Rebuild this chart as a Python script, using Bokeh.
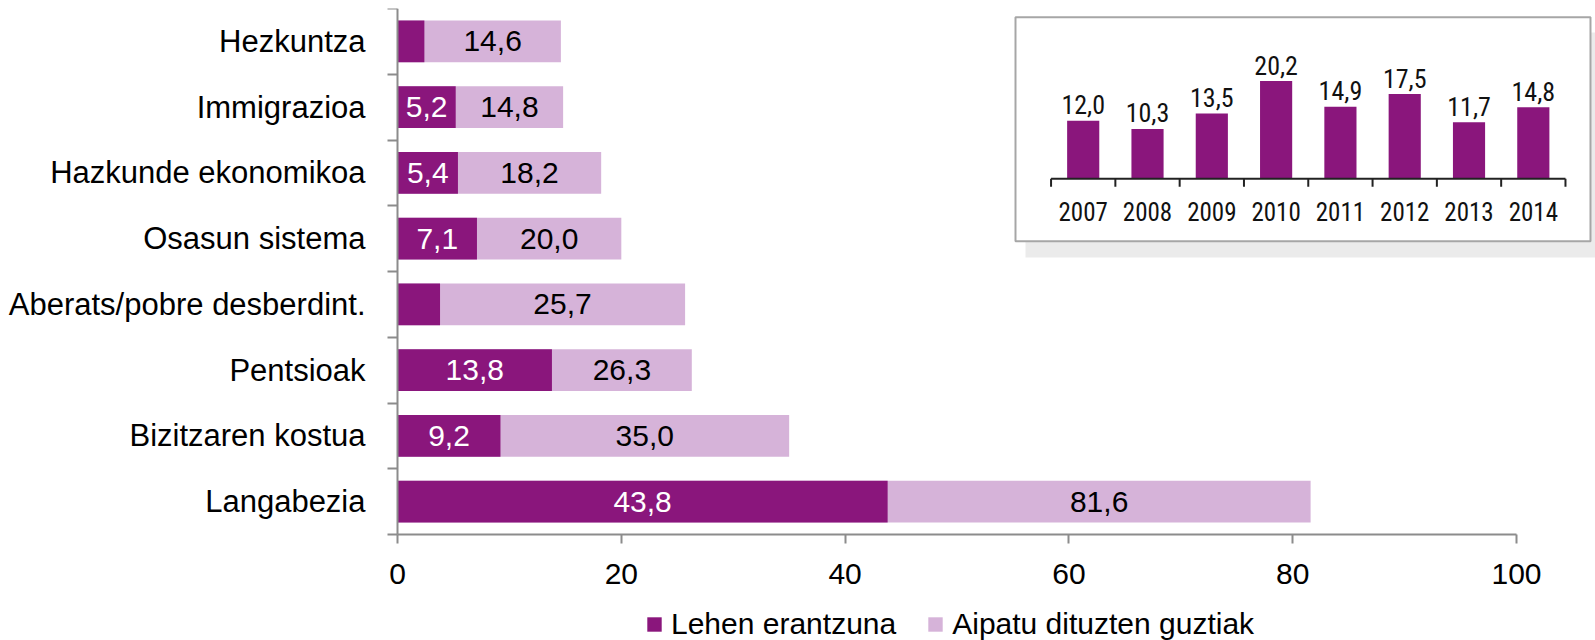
from bokeh.plotting import figure
from bokeh.models import Range1d, FixedTicker, ColumnDataSource, Legend, LegendItem
from bokeh.core.properties import value
from bokeh.embed import file_html
from bokeh.resources import INLINE

# ---- data ----
categories = ["Hezkuntza", "Immigrazioa", "Hazkunde ekonomikoa", "Osasun sistema",
              "Aberats/pobre desberdint.", "Pentsioak", "Bizitzaren kostua", "Langabezia"]
first_answer = [2.4, 5.2, 5.4, 7.1, 3.8, 13.8, 9.2, 43.8]
all_mentions = [14.6, 14.8, 18.2, 20.0, 25.7, 26.3, 35.0, 81.6]
series_names = ["Lehen erantzuna", "Aipatu dituzten guztiak"]
x_ticks = [0, 20, 40, 60, 80, 100]

years = ["2007", "2008", "2009", "2010", "2011", "2012", "2013", "2014"]
year_values = [12.0, 10.3, 13.5, 20.2, 14.9, 17.5, 11.7, 14.8]

DARK = "#8a167c"
LIGHT = "#d6b3d9"
AXIS_GRAY = "#8c8c8c"
FONT = value("Liberation Sans")
NARROW = value("Roboto Condensed")


def fmt(v):
    return f"{v:.1f}".replace(".", ",")


n = len(categories)
idx = list(range(n))
src = ColumnDataSource(dict(
    y=idx,
    first=first_answer,
    total=all_mentions,
    first_mid=[f / 2 for f in first_answer],
    total_mid=[(f + t) / 2 for f, t in zip(first_answer, all_mentions)],
    first_lbl=[fmt(f) if f >= 5 else "" for f in first_answer],
    total_lbl=[fmt(t) for t in all_mentions],
))

# frame covers the whole canvas; axes are placed at fixed data locations
p = figure(width=1595, height=640, output_backend="svg", toolbar_location=None,
           x_range=Range1d(-35.48, 107.06), y_range=Range1d(9.112, -0.5),
           min_border_left=0, min_border_right=0, min_border_top=8, min_border_bottom=0)
p.outline_line_color = None
p.grid.visible = False

# inset ranges (mapped onto the same frame)
ny = len(years)
p.extra_x_ranges = {"ix": Range1d(-16.838, 7.967)}
p.extra_y_ranges = {"iy": Range1d(-95.39, 35.19)}

# inset shadow and box
p.quad(left=[-0.897], right=[8.04], top=[30.23], bottom=[-16.26],
       x_range_name="ix", y_range_name="iy", fill_color="#ebebeb", line_color=None)
p.quad(left=[-1.053], right=[7.889], top=[33.39], bottom=[-12.89],
       x_range_name="ix", y_range_name="iy", fill_color="white", line_color="#a6a6a6", line_width=2)

# main bars
light_r = p.hbar(y="y", left=0, right="total", height=0.633, source=src,
                 fill_color=LIGHT, line_color=None)
dark_r = p.hbar(y="y", left=0, right="first", height=0.633, source=src,
                fill_color=DARK, line_color=None)
p.text(x="first_mid", y="y", text="first_lbl", source=src, text_color="white",
       text_align="center", text_baseline="middle", text_font=FONT, text_font_size="30px")
p.text(x="total_mid", y="y", text="total_lbl", source=src, text_color="black",
       text_align="center", text_baseline="middle", text_font=FONT, text_font_size="30px")

# inset bars
yidx = list(range(ny))
isrc = ColumnDataSource(dict(x=yidx, v=year_values, lbl=[fmt(v) for v in year_values],
                             year=years, zero=[0] * ny))
p.vbar(x="x", top="v", bottom=0, width=0.5, source=isrc, x_range_name="ix", y_range_name="iy",
       fill_color=DARK, line_color=None)
p.text(x="x", y="v", text="lbl", source=isrc, x_range_name="ix", y_range_name="iy",
       text_align="center", text_baseline="alphabetic", y_offset=-16,
       text_font=NARROW, text_font_size="26px", text_color="#111111")
p.text(x="x", y="zero", text="year", source=isrc, x_range_name="ix", y_range_name="iy",
       text_align="center", text_baseline="middle", y_offset=33,
       text_font=NARROW, text_font_size="25px", text_color="#111111")
edges = [i - 0.5 for i in range(ny + 1)]
p.segment(x0=[edges[0]], x1=[edges[-1]], y0=[0], y1=[0], x_range_name="ix", y_range_name="iy",
          line_color="#222222", line_width=2)
p.segment(x0=edges, x1=edges, y0=[0] * len(edges), y1=[-1.65] * len(edges),
          x_range_name="ix", y_range_name="iy", line_color="#222222", line_width=2)

# x axis (fixed at the bottom edge of the last band)
xa = p.xaxis[0]
xa.fixed_location = n - 0.5
xa.ticker = FixedTicker(ticks=x_ticks)
xa.bounds = (0, 100)
xa.axis_line_color = AXIS_GRAY
xa.axis_line_width = 2
xa.major_tick_line_color = AXIS_GRAY
xa.major_tick_line_width = 2
xa.major_tick_out = 9
xa.major_tick_in = 0
xa.minor_tick_line_color = None
xa.major_label_text_font = "Liberation Sans"
xa.major_label_text_font_size = "30px"
xa.major_label_text_color = "black"
xa.major_label_standoff = 20

# y axis (fixed at x = 0)
ya = p.yaxis[0]
ya.fixed_location = 0
ya.bounds = (-0.5, n - 0.5)
ya.ticker = FixedTicker(ticks=idx, minor_ticks=[i - 0.5 for i in range(n + 1)])
ya.major_label_overrides = {i: c for i, c in enumerate(categories)}
ya.axis_line_color = AXIS_GRAY
ya.axis_line_width = 2
ya.major_tick_line_color = None
ya.major_tick_out = 0
ya.major_tick_in = 0
ya.minor_tick_line_color = AXIS_GRAY
ya.minor_tick_line_width = 2
ya.minor_tick_out = 10
ya.minor_tick_in = 0
ya.major_label_text_font = "Liberation Sans"
ya.major_label_text_font_size = "31px"
ya.major_label_text_color = "black"
ya.major_label_standoff = 22

legend = Legend(items=[LegendItem(label=series_names[0], renderers=[dark_r]),
                       LegendItem(label=series_names[1], renderers=[light_r])],
                orientation="horizontal", location=(645, -1))
legend.border_line_color = None
legend.background_fill_alpha = 0
legend.glyph_width = 18
legend.glyph_height = 18
legend.label_standoff = 8
legend.spacing = 30
legend.padding = 0
legend.margin = 0
legend.label_text_font = "Liberation Sans"
legend.label_text_font_size = "30px"
legend.label_text_color = "black"
p.add_layout(legend)

open("out.html", "w").write(file_html(p, INLINE))
